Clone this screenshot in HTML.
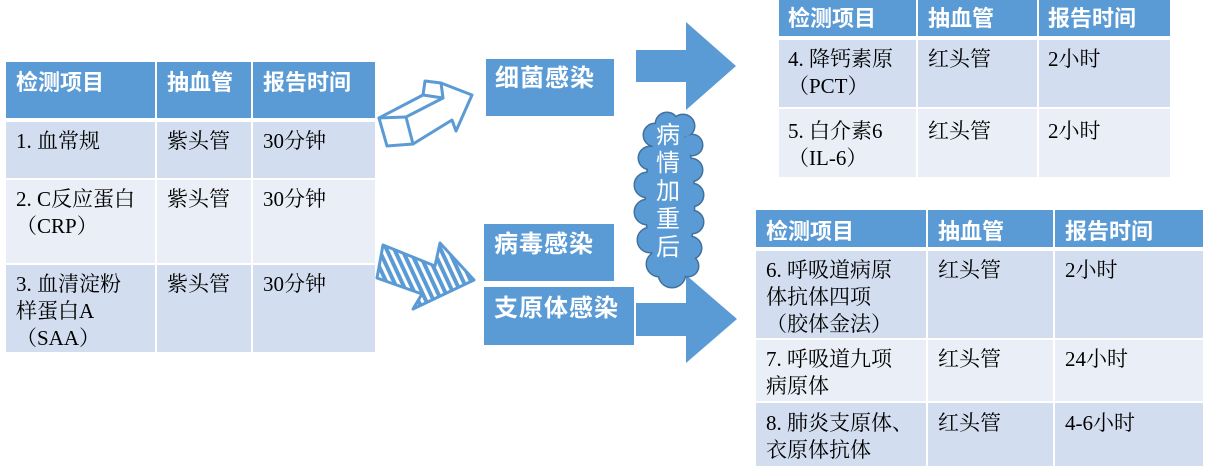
<!DOCTYPE html>
<html><head><meta charset="utf-8">
<style>
html,body{margin:0;padding:0;background:#fff;}
body{width:1209px;height:473px;position:relative;overflow:hidden;}
.c{position:absolute;box-sizing:border-box;white-space:nowrap;}
.h{background:#5B9BD5;color:#fff;font-family:"Liberation Sans","Noto Sans CJK SC",sans-serif;font-weight:bold;font-size:22px;line-height:27px;}
.a{background:#D2DEEF;}
.b{background:#EAEFF7;}
.t{font-family:"Liberation Serif","Noto Serif CJK SC",serif;font-size:21px;line-height:27px;color:#000;}
.box{position:absolute;background:#5B9BD5;color:#fff;font-family:"Liberation Sans","Noto Sans CJK SC",sans-serif;font-weight:bold;font-size:24px;line-height:28px;letter-spacing:1px;white-space:nowrap;box-sizing:border-box;}
.cloudtxt{position:absolute;left:652px;top:122px;width:32px;text-align:center;color:#fff;font-family:"Liberation Sans","Noto Sans CJK SC",sans-serif;font-size:24px;line-height:28px;}
svg{position:absolute;left:0;top:0;}
</style></head>
<body>
<svg width="1209" height="473" viewBox="0 0 1209 473">
  <defs>
    <pattern id="hatch" patternUnits="userSpaceOnUse" width="7" height="7" patternTransform="rotate(-25)">
      <rect x="0" y="0" width="7" height="7" fill="#5B9BD5"/>
      <rect x="2" y="0" width="3" height="7" fill="#fff"/>
    </pattern>
  </defs>
  <!-- big arrows -->
  <path d="M636,50 L686,50 L686,22 L736,66 L686,110 L686,82 L636,82 Z" fill="#5B9BD5"/>
  <path d="M636,303 L686,303 L686,275 L737,319 L686,363 L686,336 L636,336 Z" fill="#5B9BD5"/>
  <!-- outline 3d arrow -->
  <g fill="none" stroke="#5B9BD5" stroke-width="3" stroke-linejoin="round" stroke-linecap="round">
    <path d="M379,118 L423,95 L425,81 L441,83 L472,95 L456,131 L452,120 L413,144 L387,146 Z" fill="#fff"/>
    <path d="M379,118 L406,117 L413,144"/>
    <path d="M406,117 L443,98 L441,83"/>
    <path d="M423,95 L443,98"/>
  </g>
  <!-- hatched arrow -->
  <path d="M383,245 L435,266 L440,243 L474,280 L413,309 L422,294 L377,278 Z" fill="url(#hatch)" stroke="#5B9BD5" stroke-width="3" stroke-linejoin="round"/>
  <!-- cloud -->
  <g fill="#5B9BD5" stroke="#41719C" stroke-width="3">
    <circle cx="655" cy="135" r="11"/><circle cx="667" cy="124" r="11"/><circle cx="683" cy="126" r="11"/>
    <circle cx="692" cy="145" r="10"/><circle cx="650" cy="158" r="11"/><circle cx="647" cy="185" r="12"/>
    <circle cx="691" cy="170" r="11"/><circle cx="692" cy="195" r="11"/><circle cx="647" cy="212" r="12"/>
    <circle cx="692" cy="222" r="11"/><circle cx="650" cy="240" r="12"/><circle cx="690" cy="248" r="11"/>
    <circle cx="659" cy="264" r="12"/><circle cx="672" cy="274" r="13"/><circle cx="688" cy="266" r="10"/>
    <ellipse cx="670" cy="200" rx="24" ry="78"/>
  </g>
  <g fill="#5B9BD5">
    <circle cx="655" cy="135" r="11"/><circle cx="667" cy="124" r="11"/><circle cx="683" cy="126" r="11"/>
    <circle cx="692" cy="145" r="10"/><circle cx="650" cy="158" r="11"/><circle cx="647" cy="185" r="12"/>
    <circle cx="691" cy="170" r="11"/><circle cx="692" cy="195" r="11"/><circle cx="647" cy="212" r="12"/>
    <circle cx="692" cy="222" r="11"/><circle cx="650" cy="240" r="12"/><circle cx="690" cy="248" r="11"/>
    <circle cx="659" cy="264" r="12"/><circle cx="672" cy="274" r="13"/><circle cx="688" cy="266" r="10"/>
    <ellipse cx="670" cy="200" rx="24" ry="78"/>
  </g>
</svg>

<div class="cloudtxt">病<br>情<br>加<br>重<br>后</div>

<!-- blue boxes -->
<div class="box" style="left:486px;top:59px;width:128px;height:57px;padding:6px 0 0 9px;">细菌感染</div>
<div class="box" style="left:484px;top:224px;width:130px;height:57px;padding:7px 0 0 10px;">病毒感染</div>
<div class="box" style="left:484px;top:287px;width:150px;height:58px;padding:8px 0 0 10px;">支原体感染</div>

<!-- Table 1 -->
<div class="c h" style="left:6px;top:62px;width:149px;height:56px;padding:7px 0 0 10px;">检测项目</div>
<div class="c h" style="left:157px;top:62px;width:94px;height:56px;padding:7px 0 0 10px;">抽血管</div>
<div class="c h" style="left:253px;top:62px;width:122px;height:56px;padding:7px 0 0 10px;">报告时间</div>

<div class="c a t" style="left:6px;top:122px;width:149px;height:56px;padding:6px 0 0 10px;">1. 血常规</div>
<div class="c a t" style="left:157px;top:122px;width:94px;height:56px;padding:6px 0 0 10px;">紫头管</div>
<div class="c a t" style="left:253px;top:122px;width:122px;height:56px;padding:6px 0 0 10px;">30分钟</div>

<div class="c b t" style="left:6px;top:180px;width:149px;height:83px;padding:6px 0 0 10px;">2. C反应蛋白<br>（CRP）</div>
<div class="c b t" style="left:157px;top:180px;width:94px;height:83px;padding:6px 0 0 10px;">紫头管</div>
<div class="c b t" style="left:253px;top:180px;width:122px;height:83px;padding:6px 0 0 10px;">30分钟</div>

<div class="c a t" style="left:6px;top:265px;width:149px;height:87px;padding:6px 0 0 10px;">3. 血清淀粉<br>样蛋白A<br>（SAA）</div>
<div class="c a t" style="left:157px;top:265px;width:94px;height:87px;padding:6px 0 0 10px;">紫头管</div>
<div class="c a t" style="left:253px;top:265px;width:122px;height:87px;padding:6px 0 0 10px;">30分钟</div>

<!-- Table 2 -->
<div class="c h" style="left:779px;top:0px;width:137px;height:36px;padding:5px 0 0 9px;">检测项目</div>
<div class="c h" style="left:918px;top:0px;width:119px;height:36px;padding:5px 0 0 10px;">抽血管</div>
<div class="c h" style="left:1039px;top:0px;width:131px;height:36px;padding:5px 0 0 9px;">报告时间</div>

<div class="c a t" style="left:779px;top:40px;width:137px;height:67px;padding:6px 0 0 9px;">4. 降钙素原<br>（PCT）</div>
<div class="c a t" style="left:918px;top:40px;width:119px;height:67px;padding:6px 0 0 10px;">红头管</div>
<div class="c a t" style="left:1039px;top:40px;width:131px;height:67px;padding:6px 0 0 9px;">2小时</div>

<div class="c b t" style="left:779px;top:109px;width:137px;height:68px;padding:9px 0 0 9px;">5. 白介素6<br>（IL-6）</div>
<div class="c b t" style="left:918px;top:109px;width:119px;height:68px;padding:9px 0 0 10px;">红头管</div>
<div class="c b t" style="left:1039px;top:109px;width:131px;height:68px;padding:9px 0 0 9px;">2小时</div>

<!-- Table 3 -->
<div class="c h" style="left:756px;top:210px;width:170px;height:37px;padding:8px 0 0 10px;">检测项目</div>
<div class="c h" style="left:928px;top:210px;width:125px;height:37px;padding:8px 0 0 10px;">抽血管</div>
<div class="c h" style="left:1055px;top:210px;width:148px;height:37px;padding:8px 0 0 10px;">报告时间</div>

<div class="c a t" style="left:756px;top:251px;width:170px;height:87px;padding:6px 0 0 10px;">6. 呼吸道病原<br>体抗体四项<br>（胶体金法）</div>
<div class="c a t" style="left:928px;top:251px;width:125px;height:87px;padding:6px 0 0 10px;">红头管</div>
<div class="c a t" style="left:1055px;top:251px;width:148px;height:87px;padding:6px 0 0 10px;">2小时</div>

<div class="c b t" style="left:756px;top:340px;width:170px;height:61px;padding:6px 0 0 10px;">7. 呼吸道九项<br>病原体</div>
<div class="c b t" style="left:928px;top:340px;width:125px;height:61px;padding:6px 0 0 10px;">红头管</div>
<div class="c b t" style="left:1055px;top:340px;width:148px;height:61px;padding:6px 0 0 10px;">24小时</div>

<div class="c a t" style="left:756px;top:403px;width:170px;height:63px;padding:7px 0 0 10px;">8. 肺炎支原体、<br>衣原体抗体</div>
<div class="c a t" style="left:928px;top:403px;width:125px;height:63px;padding:7px 0 0 10px;">红头管</div>
<div class="c a t" style="left:1055px;top:403px;width:148px;height:63px;padding:7px 0 0 10px;">4-6小时</div>
</body></html>
